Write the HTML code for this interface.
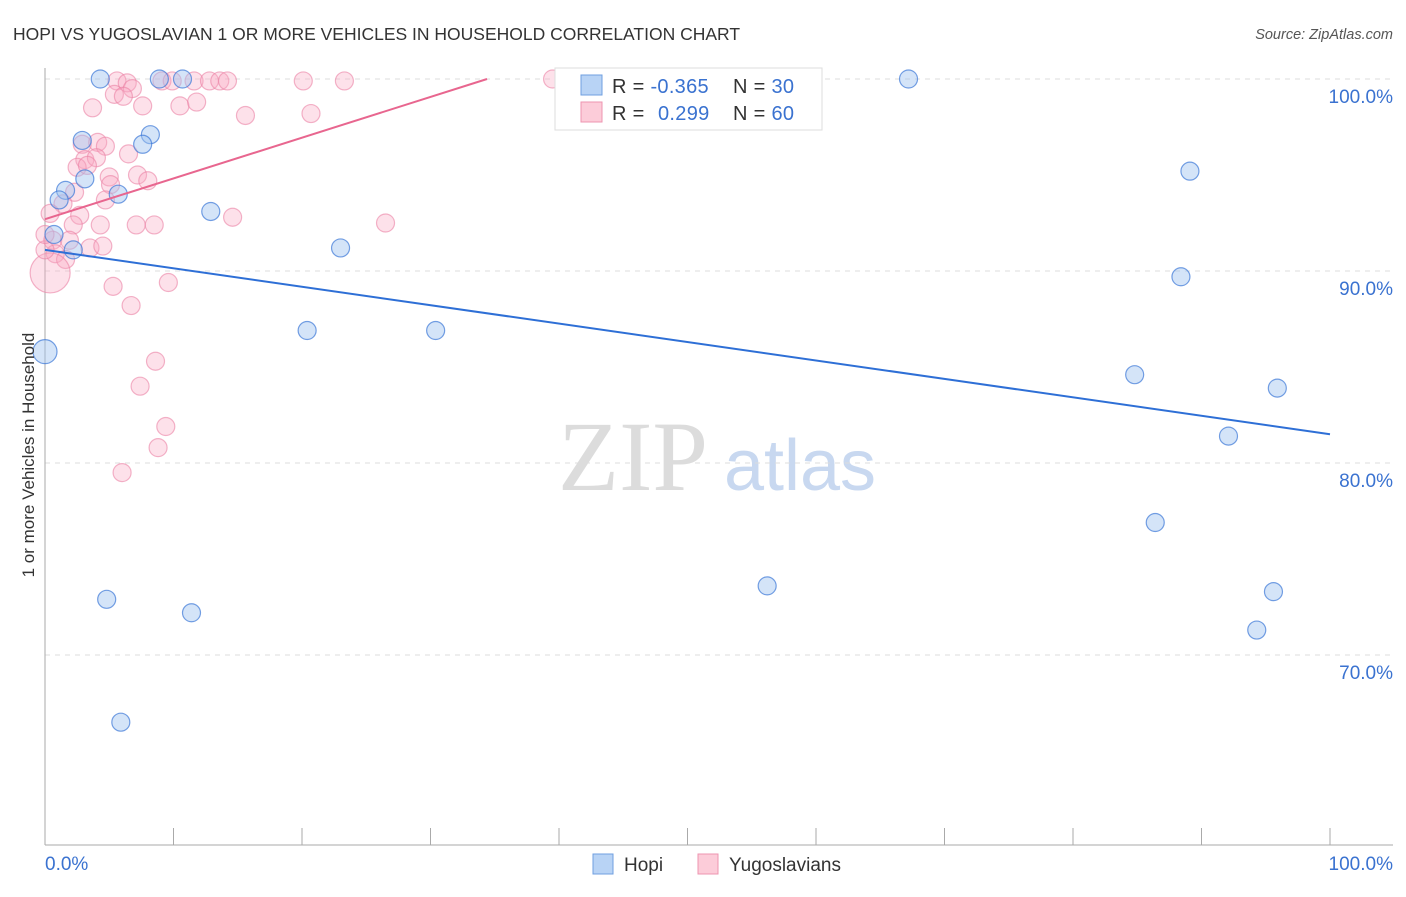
<!DOCTYPE html>
<html><head><meta charset="utf-8"><style>
body{margin:0;background:#fff;font-family:"Liberation Sans",sans-serif}
</style></head><body>
<svg width="1406" height="892" xmlns="http://www.w3.org/2000/svg" style="font-family:'Liberation Sans',sans-serif">
<text x="13" y="40" font-size="17.5" fill="#333">HOPI VS YUGOSLAVIAN 1 OR MORE VEHICLES IN HOUSEHOLD CORRELATION CHART</text>
<text x="1393" y="39" font-size="14.5" fill="#555" font-style="italic" text-anchor="end">Source: ZipAtlas.com</text>
<g>
<text x="633" y="490" font-size="100" fill="#dcdcdc" font-family="'Liberation Serif',serif" text-anchor="middle">ZIP</text>
<text x="800" y="490" font-size="72" fill="#c8d8f0" text-anchor="middle">atlas</text>
</g>
<g id="grid"></g>
<g id="axes"></g>
<g id="marks"></g>
<text transform="translate(34,455) rotate(-90)" font-size="17" fill="#333" text-anchor="middle">1 or more Vehicles in Household</text>
<g>
<rect x="555" y="68" width="267" height="62" fill="#fff" stroke="#ddd"/>
<rect x="581" y="75" width="21" height="20" fill="#b8d3f5" stroke="#6f9fe0"/>
<rect x="581" y="102" width="21" height="20" fill="#fcccd9" stroke="#ee94b0"/>
<text x="612" y="93" font-size="20" fill="#333" letter-spacing="0.3">R = <tspan fill="#3a72d0">-0.365</tspan></text>
<text x="733" y="93" font-size="20" fill="#333" letter-spacing="0.3">N = <tspan fill="#3a72d0">30</tspan></text>
<text x="612" y="120" font-size="20" fill="#333" letter-spacing="0.3">R = <tspan fill="#3a72d0" x="658">0.299</tspan></text>
<text x="733" y="120" font-size="20" fill="#333" letter-spacing="0.3">N = <tspan fill="#3a72d0">60</tspan></text>
</g>
<g>
<rect x="593" y="854" width="20" height="20" fill="#b8d3f5" stroke="#6f9fe0"/>
<text x="624" y="871" font-size="19" fill="#333">Hopi</text>
<rect x="698" y="854" width="20" height="20" fill="#fcccd9" stroke="#ee94b0"/>
<text x="729" y="871" font-size="19" fill="#333">Yugoslavians</text>
</g>
</svg>
<script>
const hopiX=[4.3,8.9,10.7,67.2,2.9,8.2,7.6,3.1,1.6,1.1,5.7,12.9,0.7,2.2,23.0,0,89.1,88.4,20.4,30.4,84.8,95.9,92.1,86.4,56.2,4.8,11.4,95.6,94.3,5.9];
const hopiY=[100,100,100,100,96.8,97.1,96.6,94.8,94.2,93.7,94.0,93.1,91.9,91.1,91.2,85.8,95.2,89.7,86.9,86.9,84.6,83.9,81.4,76.9,73.6,72.9,72.2,73.3,71.3,66.5];
const yugoX=[5.6,9.1,9.9,11.6,12.8,13.6,14.2,20.1,23.3,39.5,6.4,6.8,5.4,6.1,3.7,7.6,10.5,11.8,15.6,20.7,2.9,4.1,4.7,6.5,3.1,4.0,2.5,3.3,5.0,7.2,8.0,5.1,2.3,1.4,2.7,0.4,2.2,4.3,7.1,8.5,14.6,26.5,0.6,1.9,3.5,4.5,0.8,1.6,0.4,5.3,9.6,6.7,8.6,7.4,9.4,8.8,6.0,0,0,4.7];
const yugoY=[99.9,99.9,99.9,99.9,99.9,99.9,99.9,99.9,99.9,100,99.8,99.5,99.2,99.1,98.5,98.6,98.6,98.8,98.1,98.2,96.6,96.7,96.5,96.1,95.8,95.9,95.4,95.5,94.9,95.0,94.7,94.5,94.1,93.5,92.9,93.0,92.4,92.4,92.4,92.4,92.8,92.5,91.6,91.6,91.2,91.3,90.9,90.6,89.9,89.2,89.4,88.2,85.3,84.0,81.9,80.8,79.5,91.1,91.9,93.7];
const yTicks=[100,90,80,70];
const xTickLabels=["0.0%","100.0%"];
const hopiTrend=[[0,91.1],[100,81.5]];
const yugoTrend=[[0,92.7],[34.4,100]];
const NS='http://www.w3.org/2000/svg';
const X=v=>45+v*12.85, Y=v=>79+(100-v)*19.2;
function el(t,a,p){const e=document.createElementNS(NS,t);for(const k in a)e.setAttribute(k,a[k]);document.getElementById(p).appendChild(e);return e;}
yTicks.forEach(t=>{
 const l=el('line',{x1:45,x2:1393,y1:Y(t),y2:Y(t),stroke:'#ddd','stroke-dasharray':'5,5'},'grid');
 
 
 const tx=el('text',{x:1393,y:Y(t)+24,'font-size':19,fill:'#3a72d0','text-anchor':'end'},'grid');
 tx.textContent=t.toFixed(1)+'%';
 
 
});
let a=el('line',{x1:45,x2:45,y1:68,y2:845,stroke:'#aaa'},'axes');


a=el('line',{x1:45,x2:1393,y1:845,y2:845,stroke:'#aaa'},'axes');


for(let i=0;i<=10;i++){const t=el('line',{x1:X(i*10),x2:X(i*10),y1:828,y2:845,stroke:'#aaa'},'axes');
 
 }
[[0,'start',X(0)],[1,'end',1393]].forEach(([i,an,x])=>{const t=el('text',{x:x,y:870,'font-size':19,fill:'#3a72d0','text-anchor':an},'axes');t.textContent=xTickLabels[i];
 
 });
yugoX.forEach((v,i)=>{const r=(i===48)?20:9;const c=el('circle',{cx:X(v),cy:Y(yugoY[i]),r:r,fill:'rgba(248,170,195,0.35)',stroke:'rgba(235,130,165,0.6)','stroke-width':1.2},'marks');
 
 });
hopiX.forEach((v,i)=>{const r=(i===15)?12:9;const c=el('circle',{cx:X(v),cy:Y(hopiY[i]),r:r,fill:'rgba(160,195,240,0.45)',stroke:'rgba(60,120,215,0.7)','stroke-width':1.2},'marks');
 
 });
let tl=el('line',{x1:X(hopiTrend[0][0]),y1:Y(hopiTrend[0][1]),x2:X(hopiTrend[1][0]),y2:Y(hopiTrend[1][1]),stroke:'#2e6fd6','stroke-width':2},'marks');


tl=el('line',{x1:X(yugoTrend[0][0]),y1:Y(yugoTrend[0][1]),x2:X(yugoTrend[1][0]),y2:Y(yugoTrend[1][1]),stroke:'#e8668f','stroke-width':2},'marks');


</script>
</body></html>
